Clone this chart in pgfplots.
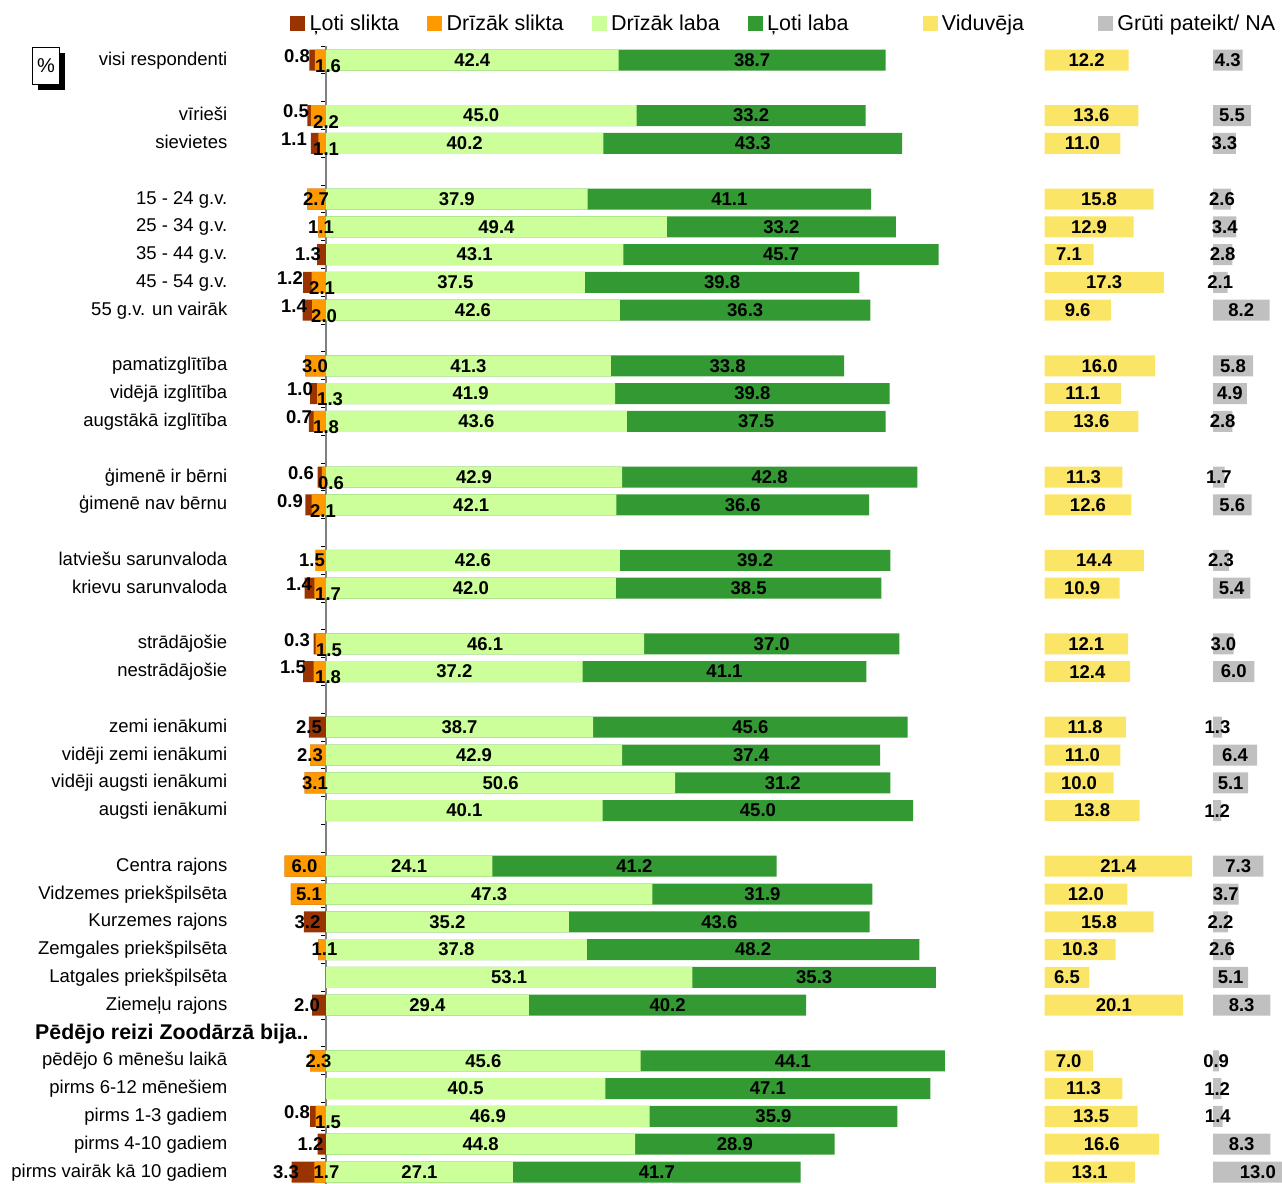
\documentclass[border=0pt]{standalone}
\usepackage{pgfplots}
\pgfplotsset{compat=1.18}
\usepackage{pgfplotstable}
\usepackage{fontspec}
\setmainfont{Liberation Sans}

\definecolor{cLS}{HTML}{993300}
\definecolor{cDS}{HTML}{FF9900}
\definecolor{cDL}{HTML}{CCFF99}
\definecolor{cVL}{HTML}{339933}
\definecolor{cVI}{HTML}{FBE566}
\definecolor{cGR}{HTML}{C0C0C0}

\pgfplotstableread{
row ls ds dl vl vi gr
0 0.8 1.6 42.4 38.7 12.2 4.3
2 0.5 2.2 45.0 33.2 13.6 5.5
3 1.1 1.1 40.2 43.3 11.0 3.3
5 0 2.7 37.9 41.1 15.8 2.6
6 0 1.1 49.4 33.2 12.9 3.4
7 1.3 0 43.1 45.7 7.1 2.8
8 1.2 2.1 37.5 39.8 17.3 2.1
9 1.4 2.0 42.6 36.3 9.6 8.2
11 0 3.0 41.3 33.8 16.0 5.8
12 1.0 1.3 41.9 39.8 11.1 4.9
13 0.7 1.8 43.6 37.5 13.6 2.8
15 0.6 0.6 42.9 42.8 11.3 1.7
16 0.9 2.1 42.1 36.6 12.6 5.6
18 0 1.5 42.6 39.2 14.4 2.3
19 1.4 1.7 42.0 38.5 10.9 5.4
21 0.3 1.5 46.1 37.0 12.1 3.0
22 1.5 1.8 37.2 41.1 12.4 6.0
24 2.5 0 38.7 45.6 11.8 1.3
25 0 2.3 42.9 37.4 11.0 6.4
26 0 3.1 50.6 31.2 10.0 5.1
27 0 0 40.1 45.0 13.8 1.2
29 0 6.0 24.1 41.2 21.4 7.3
30 0 5.1 47.3 31.9 12.0 3.7
31 3.2 0 35.2 43.6 15.8 2.2
32 0 1.1 37.8 48.2 10.3 2.6
33 0 0 53.1 35.3 6.5 5.1
34 2.0 0 29.4 40.2 20.1 8.3
36 0 2.3 45.6 44.1 7.0 0.9
37 0 0 40.5 47.1 11.3 1.2
38 0.8 1.5 46.9 35.9 13.5 1.4
39 1.2 0 44.8 28.9 16.6 8.3
40 3.3 1.7 27.1 41.7 13.1 13.0
}\data

\newcommand\sqimg[1]{\addlegendimage{legend image code/.code={\fill[#1] (0pt,-7pt) rectangle (14pt,7pt);}}}

\pgfplotsset{
  common/.style={
    scale only axis, height=1142.58pt,
    ymin=-0.5, ymax=40.6, y dir=reverse,
    enlargelimits=false, clip=false, anchor=north west,
    every node near coord/.append style={font=\bfseries\fontsize{18.5}{22}\selectfont, inner sep=0pt, anchor=center, black},
  },
  barst/.style={xbar, bar width=21pt, bar shift=0pt, draw=none, forget plot},
  lab/.style={draw=none, mark=none, nodes near coords, point meta=explicit symbolic, forget plot},
}

\begin{document}
\begin{tikzpicture}
\useasboundingbox (0,0) rectangle (1282pt,-1183pt);

% percent box
\fill[black] (38pt,-53pt) rectangle (65pt,-90pt);
\filldraw[fill=white, draw=black, line width=1pt] (32.5pt,-47.5pt) rectangle (59.5pt,-84.5pt);
\node[font=\fontsize{20}{22}\selectfont] at (46pt,-66pt) {\%};

\begin{axis}[common, at={(270.8pt,-46.1pt)}, width=717.6pt, xmin=-8, xmax=96,
  axis x line=none, axis y line=center,
  hide obscured x ticks=false, hide obscured y ticks=false,
  every inner y axis line/.append style={-},
  y axis line style={-, draw=gray, line width=1.5pt},
  ytick={0,2,3,5,6,7,8,9,11,12,13,15,16,18,19,21,22,24,25,26,27,29,30,31,32,33,34,36,37,38,39,40},
  yticklabels={visi respondenti, vīrieši, sievietes, 15 - 24 g.v., 25 - 34 g.v., 35 - 44 g.v., 45 - 54 g.v., 55 g.v. un vairāk, pamatizglītība, vidējā izglītība, augstākā izglītība, ģimenē ir bērni, ģimenē nav bērnu, latviešu sarunvaloda, krievu sarunvaloda, strādājošie, nestrādājošie, zemi ienākumi, vidēji zemi ienākumi, vidēji augsti ienākumi, augsti ienākumi, Centra rajons, Vidzemes priekšpilsēta, Kurzemes rajons, Zemgales priekšpilsēta, Latgales priekšpilsēta, Ziemeļu rajons, pēdējo 6 mēnešu laikā, pirms 6-12 mēnešiem, pirms 1-3 gadiem, pirms 4-10 gadiem, pirms vairāk kā 10 gadiem},
  minor ytick={-0.5,0.5,...,40.5},
  major tick length=0pt, minor tick length=5pt, tick align=outside,
  tick style={black, line width=1pt},
  yticklabel style={font=\fontsize{18.5}{22}\selectfont, anchor=east, inner sep=0pt, xshift=-98.5pt, text height=13.3pt, text depth=3.3pt},
  legend columns=6, legend cell align=left,
  legend style={draw=none, fill=none, at={(0.02676,1.0202)}, anchor=west, inner sep=0pt,
    font=\fontsize{21.5}{24}\selectfont,
    /tikz/every odd column/.append style={column sep=3pt},
    /tikz/every even column/.append style={column sep=26pt}},
]
\sqimg{cLS}\addlegendentry{Ļoti slikta}
\sqimg{cDS}\addlegendentry{Drīzāk slikta}
\sqimg{cDL}\addlegendentry{Drīzāk laba}
\sqimg{cVL}\addlegendentry{Ļoti laba\hspace*{46pt}}
\sqimg{cVI}\addlegendentry{Viduvēja\hspace*{46pt}}
\sqimg{cGR}\addlegendentry{Grūti pateikt/ NA}

\addplot[barst, fill=cLS] table[x expr=-\thisrow{ls}-\thisrow{ds}, y=row]{\data};
\addplot[barst, fill=cDS] table[x expr=-\thisrow{ds}, y=row]{\data};
\addplot[barst, fill=cVL] table[x expr=\thisrow{dl}+\thisrow{vl}, y=row]{\data};
\addplot[barst, fill=cDL] table[x=dl, y=row]{\data};

\addplot[lab] table[x expr=\thisrow{dl}/2, y=row, meta=dl]{\data};
\addplot[lab] table[x expr=\thisrow{dl}+\thisrow{vl}/2, y=row, meta=vl]{\data};

% left labels: Ļoti slikta when both present
\addplot[lab, every node near coord/.append style={anchor=east, yshift=4pt}] coordinates {
(-2.32,0) [0.8] (-2.46,2) [0.5] (-2.75,3) [1.1] (-3.33,8) [1.2] (-2.75,9) [1.4]
(-1.88,12) [1.0] (-2.03,13) [0.7] (-1.74,15) [0.6] (-3.33,16) [0.9] (-2.03,19) [1.4]
(-2.32,21) [0.3] (-2.9,22) [1.5] (-2.32,38) [0.8]};
% left labels: Drīzāk slikta when both present
\addplot[lab, every node near coord/.append style={anchor=west, yshift=-6pt}] coordinates {
(-1.59,0) [1.6] (-1.88,2) [2.2] (-1.88,3) [1.1] (-2.46,8) [2.1] (-2.17,9) [2.0]
(-1.30,12) [1.3] (-1.88,13) [1.8] (-1.16,15) [0.6] (-2.32,16) [2.1] (-1.59,19) [1.7]
(-1.45,21) [1.5] (-1.59,22) [1.8] (-1.59,38) [1.5]};
% left labels: single values
\addplot[lab] coordinates {
(-1.45,5) [2.7] (-0.72,6) [1.1] (-2.61,7) [1.3] (-1.59,11) [3.0] (-2.03,18) [1.5]
(-2.46,24) [2.5] (-2.32,25) [2.3] (-1.59,26) [3.1] (-3.12,29) [6.0] (-2.46,30) [5.1]
(-2.68,31) [3.2] (-0.22,32) [1.1] (-2.75,34) [2.0] (-1.09,36) [2.3] (-2.25,39) [1.2]
(-5.8,40) [3.3] (0.07,40) [1.7]};

\node[anchor=west, font=\bfseries\fontsize{21.3}{24}\selectfont, inner sep=0pt, text height=15.3pt, text depth=2.3pt] at (axis cs:-42.17,35) {Pēdējo reizi Zoodārzā bija..};
\end{axis}

\begin{axis}[common, at={(1044.5pt,-46.1pt)}, width=172.5pt, xmin=0, xmax=25, hide axis]
\addplot[barst, fill=cVI] table[x=vi, y=row]{\data};
\addplot[lab] table[x expr=\thisrow{vi}/2, y=row, meta=vi]{\data};
\end{axis}

\begin{axis}[common, at={(1213pt,-46.1pt)}, width=96.6pt, xmin=0, xmax=14, hide axis]
\addplot[barst, fill=cGR] table[x=gr, y=row]{\data};
\addplot[lab] table[x expr=\thisrow{gr}/2, y=row, meta=gr]{\data};
\end{axis}
\end{tikzpicture}
\end{document}
